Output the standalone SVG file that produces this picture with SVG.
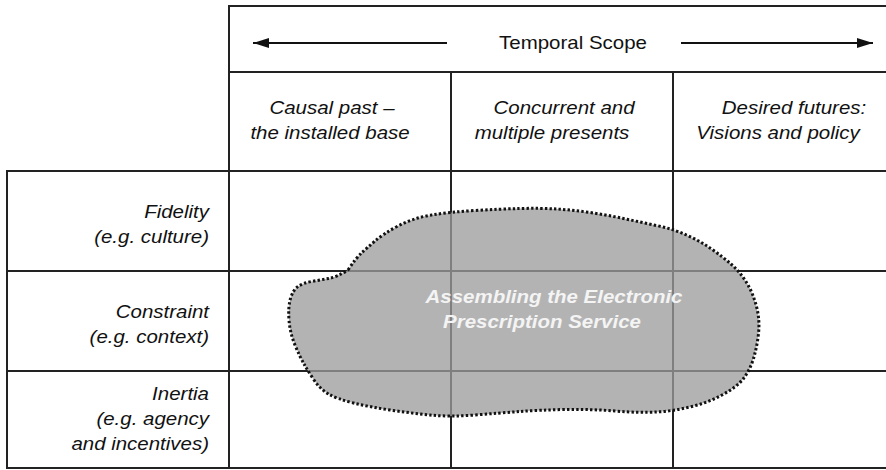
<svg xmlns="http://www.w3.org/2000/svg" width="886" height="470" viewBox="0 0 886 470">
<style>
.grid line{stroke:#222;stroke-width:2;}
.t{font-family:"Liberation Sans",Arial,sans-serif;font-size:17.5px;fill:#111;}
.it{font-style:italic;}
.bt{font-family:"Liberation Sans",Arial,sans-serif;font-size:17.5px;font-weight:bold;font-style:italic;fill:#f4f4f4;}
.arr{stroke:#111;stroke-width:2;fill:none;marker-end:url(#ah);}
</style>
<defs>
<marker id="ah" markerUnits="userSpaceOnUse" markerWidth="18" markerHeight="12" refX="16" refY="5" orient="auto">
<path d="M0,0 L16,5 L0,10 z" fill="#111"/>
</marker>
</defs>
<rect width="886" height="470" fill="#fff"/>
<g id="grid" class="grid">
<line x1="229" y1="6" x2="886" y2="6"/>
<line x1="229" y1="5" x2="229" y2="469"/>
<line x1="229" y1="72" x2="886" y2="72"/>
<line x1="7" y1="171" x2="886" y2="171"/>
<line x1="7" y1="271" x2="886" y2="271"/>
<line x1="7" y1="371" x2="886" y2="371"/>
<line x1="7" y1="468" x2="886" y2="468"/>
<line x1="7" y1="170" x2="7" y2="469"/>
<line x1="451" y1="72" x2="451" y2="469"/>
<line x1="673" y1="72" x2="673" y2="469"/>
</g>
<g id="connectors">
<line class="arr" x1="447" y1="43" x2="253" y2="43"/>
<line class="arr" x1="681" y1="43" x2="873" y2="43"/>
</g>
<g id="temporal-scope">
<text class="t" text-anchor="middle" transform="translate(573,49) scale(1.17,1)">Temporal Scope</text>
</g>
<g id="col-past">
<text class="t it" text-anchor="middle" transform="translate(332,114) scale(1.17,1)">Causal past –</text>
<text class="t it" text-anchor="middle" transform="translate(330,139) scale(1.17,1)">the installed base</text>
</g>
<g id="col-present">
<text class="t it" text-anchor="middle" transform="translate(564,114) scale(1.17,1)">Concurrent and</text>
<text class="t it" text-anchor="middle" transform="translate(552,139) scale(1.17,1)">multiple presents</text>
</g>
<g id="col-future">
<text class="t it" text-anchor="middle" transform="translate(794,114) scale(1.17,1)">Desired futures:</text>
<text class="t it" text-anchor="middle" transform="translate(778,139) scale(1.17,1)">Visions and policy</text>
</g>
<g id="row-fidelity">
<text class="t it" text-anchor="end" transform="translate(209,218) scale(1.17,1)"><tspan x="0" y="0">Fidelity</tspan><tspan x="0" y="25">(e.g. culture)</tspan></text>
</g>
<g id="row-constraint">
<text class="t it" text-anchor="end" transform="translate(209,318) scale(1.17,1)"><tspan x="0" y="0">Constraint</tspan><tspan x="0" y="25">(e.g. context)</tspan></text>
</g>
<g id="row-inertia">
<text class="t it" text-anchor="end" transform="translate(209,400) scale(1.17,1)"><tspan x="0" y="0">Inertia</tspan><tspan x="0" y="25">(e.g. agency</tspan><tspan x="0" y="50">and incentives)</tspan></text>
</g>
<g id="eps-blob">
<path d="M348,270 Q356,258 361.5,253 Q367,248 375,241 Q383,234 398,226 Q413,218 431.5,215 Q450,212 475,210.5 Q500,209 520,208.5 Q540,208 556.5,209 Q573,210 590,212.5 Q607,215 623.5,218.5 Q640,222 656.5,225.5 Q673,229 686.5,235 Q700,241 711.5,249 Q723,257 731.5,264.5 Q740,272 746.5,282.5 Q753,293 756.5,306.5 Q760,320 758.5,333.5 Q757,347 753.5,358.5 Q750,370 743.5,378.5 Q737,387 722,395 Q707,403 690,407 Q673,411 656.5,412 Q640,413 615,411 Q590,409 565,409.5 Q540,410 520,411.5 Q500,413 475,415 Q450,417 430,415 Q410,413 390,410 Q370,407 353.5,403 Q337,399 328.5,394 Q320,389 314,380 Q308,371 304,364 Q300,357 295,345 Q290,333 289,320 Q288,307 290.5,298.5 Q293,290 298,286.5 Q303,283 311.5,281.5 Q320,280 328.5,278.5 Q337,277 348,270 Z" fill="#9c9c9c" fill-opacity="0.77" stroke="#111" stroke-width="3" stroke-dasharray="2.4 2.2"/>
<text class="bt" text-anchor="middle" transform="translate(554,303) scale(1.17,1)">Assembling the Electronic</text>
<text class="bt" text-anchor="middle" transform="translate(542,328) scale(1.17,1)">Prescription Service</text>
</g>
</svg>
